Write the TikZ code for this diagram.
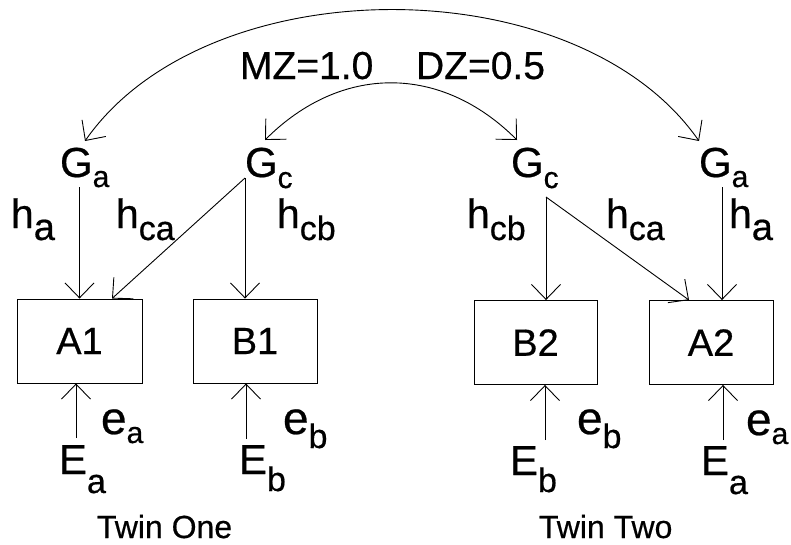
\documentclass[tikz,border=0pt]{standalone}
\usepackage{fontspec}
\setmainfont{Liberation Sans}[FakeBold=0.5]
\usetikzlibrary{arrows.meta,calc}
\newcommand\sbx[3]{\lower#1pt\hbox{\fontsize{#2}{#2}\selectfont #3}}
\begin{document}
\begin{tikzpicture}[x=1pt,y=-1pt,
 lab/.style={anchor=base west,inner sep=0pt,outer sep=0pt},
 big/.style={lab,font=\fontsize{42}{42}\selectfont},
 hfont/.style={lab,font=\fontsize{41}{41}\selectfont},
 efont/.style={lab,font=\fontsize{46}{46}\selectfont},
 title/.style={lab,font=\fontsize{39}{39}\selectfont},
 twin/.style={lab,font=\fontsize{32}{32}\selectfont},
 varbox/.style={draw,line width=0.9pt,minimum height=84pt,inner sep=0pt,font=\fontsize{38}{38}\selectfont},
 arr/.style={line width=0.9pt,-{Straight Barb[length=15pt,width=29pt]}},
 darr/.style={line width=0.9pt,{Straight Barb[length=15pt,width=29pt]}-{Straight Barb[length=15pt,width=29pt]}},
]
\useasboundingbox (0,0) rectangle (791,544);

% boxes
\node[varbox,minimum width=125pt] (A1) at (79.5,341) {A1};
\node[varbox,minimum width=124pt] (B1) at (255,341) {B1};
\node[varbox,minimum width=123pt] (B2) at (535.5,342.5) {B2};
\node[varbox,minimum width=124pt] (A2) at (711,342.5) {A2};

% G labels
\node[big] (Ga1) at (60,177) {G\sbx{10}{30}{a}};
\node[big] (Gc1) at (245,177) {G\sbx{11}{30}{c}};
\node[big] (Gc2) at (511,177) {G\sbx{11}{30}{c}};
\node[big] (Ga2) at (699,177) {G\sbx{10}{30}{a}};

% h labels
\node[hfont] (ha1) at (11,228) {h\sbx{12}{38}{a}};
\node[hfont] (hca1) at (116,228) {h\sbx{12}{34}{ca}};
\node[hfont] (hcb1) at (277,228) {h\sbx{12}{34}{cb}};
\node[hfont] (hcb2) at (467,228) {h\sbx{12}{34}{cb}};
\node[hfont] (hca2) at (606,228) {h\sbx{12}{34}{ca}};
\node[hfont] (ha2) at (729,228) {h\sbx{12}{38}{a}};

% E labels
\node[big] (Ea1) at (59,474) {E\sbx{19}{34}{a}};
\node[big] (Eb1) at (239,474) {E\sbx{17}{34}{b}};
\node[big] (Eb2) at (510,475) {E\sbx{17}{34}{b}};
\node[big] (Ea2) at (701,475) {E\sbx{19}{34}{a}};

% e labels
\node[efont] (ea1) at (101,434) {e\sbx{9}{30}{a}};
\node[efont] (eb1) at (283,434) {e\sbx{14}{34}{b}};
\node[efont] (eb2) at (577,434) {e\sbx{14}{34}{b}};
\node[efont] (ea2) at (746,435) {e\sbx{9}{30}{a}};

% titles
\node[title] (mz) at (240,79) {MZ=1.0};
\node[title] (dz) at (416,79) {DZ=0.5};
\node[twin] (t1) at (97,538) {Twin One};
\node[twin] (t2) at (539,538) {Twin Two};

% start points
\coordinate (sGa1) at (A1.north |- Ga1.south);
\coordinate (sGc1) at ([shift={(0pt,-1pt)}]Gc1.base west);
\coordinate (sGc2) at ([shift={(35pt,-20pt)}]Gc2.base west);
\coordinate (sGa2) at ([shift={(23pt,-10pt)}]Ga2.base west);
\coordinate (sEa1) at ([shift={(17pt,36pt)}]Ea1.base west);
\coordinate (sEb1) at ([shift={(7pt,35pt)}]Eb1.base west);
\coordinate (sEb2) at ([shift={(35pt,35pt)}]Eb2.base west);
\coordinate (sEa2) at ([shift={(22pt,35pt)}]Ea2.base west);

% G to boxes
\draw[arr] (sGa1) -- (A1.north);
\draw[arr] (sGc1) -- ([xshift=32.5pt]A1.north);
\draw[arr] (sGc1) -- (B1.north -| sGc1);
\draw[arr] (sGc2) -- (B2.north -| sGc2);
\draw[arr] (sGc2) -- ([xshift=-22pt]A2.north);
\draw[arr] (sGa2) -- (A2.north -| sGa2);

% E to boxes
\draw[arr] (sEa1) -- (A1.south -| sEa1);
\draw[arr] (sEb1) -- (B1.south -| sEb1);
\draw[arr] (sEb2) -- (B2.south -| sEb2);
\draw[arr] (sEa2) -- (A2.south -| sEa2);

% correlations
\draw[darr] ([shift={(25pt,36pt)}]Ga1.base west) .. controls (207,-34) and (577,-34) .. ([shift={(0pt,36pt)}]Ga2.base west);
\draw[darr] ([shift={(20pt,37pt)}]Gc1.base west) .. controls (341,64) and (441,64) .. ([shift={(6pt,37pt)}]Gc2.base west);
\end{tikzpicture}
\end{document}
